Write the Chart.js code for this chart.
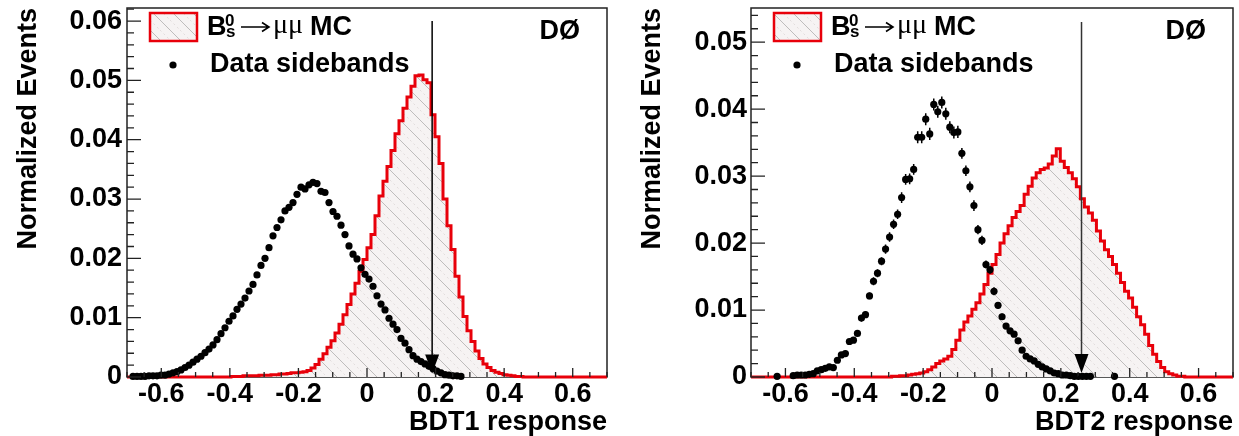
<!DOCTYPE html>
<html><head><meta charset="utf-8">
<script src="https://cdn.jsdelivr.net/npm/chart.js@4.4.1/dist/chart.umd.min.js"></script>
<style>
html,body{margin:0;padding:0;background:#fff;}
#wrap{position:relative;width:1239px;height:436px;background:#fff;}
canvas{position:absolute;top:0;}
</style></head><body>
<div id="wrap">
<canvas id="c1" width="620" height="436" style="left:0"></canvas>
<canvas id="c2" width="619" height="436" style="left:620px"></canvas>
</div>
<script>
// ---------------- data ----------------
const X_MIN = -0.7, X_MAX = 0.7, N_BINS = 120;
const X_TICKS = [-0.6, -0.4, -0.2, 0, 0.2, 0.4, 0.6];
const X_TICK_LABELS = ['-0.6', '-0.4', '-0.2', '0', '0.2', '0.4', '0.6'];
const Y_TICKS_1 = [0, 0.01, 0.02, 0.03, 0.04, 0.05, 0.06];
const Y_TICK_LABELS_1 = ['0', '0.01', '0.02', '0.03', '0.04', '0.05', '0.06'];
const Y_TICKS_2 = [0, 0.01, 0.02, 0.03, 0.04, 0.05];
const Y_TICK_LABELS_2 = ['0', '0.01', '0.02', '0.03', '0.04', '0.05'];
const CUT_1 = 0.19, CUT_2 = 0.26;

// BDT1: signal MC histogram (120 bins from -0.7 to 0.7)
const MC_1 = [
  0,0,0,0,0,0,0,0,0,0,
  0,0,0,0,0,0,0,0,0,0,
  0,0,0,0,0,0,0.0001,0.0001,0.0001,0.0002,
  0.0002,0.0002,0.0002,0.0003,0.0003,0.0003,0.0004,0.0004,0.0005,0.0005,
  0.0006,0.0007,0.0007,0.0008,0.0009,0.0011,0.0015,0.0021,0.0030,0.0039,
  0.0050,0.0061,0.0074,0.0089,0.0105,0.0122,0.0140,0.0158,0.0178,0.0198,
  0.0218,0.0240,0.0272,0.0305,0.0330,0.0355,0.0382,0.0410,0.0432,0.0453,
  0.0472,0.0490,0.0508,0.0509,0.0501,0.0496,0.0442,0.0405,0.0360,0.0300,
  0.0255,0.0215,0.0170,0.0135,0.0102,0.0078,0.0060,0.0044,0.0031,0.0022,
  0.0016,0.0011,0.0008,0.0006,0.0004,0.0003,0.0002,0.0001,0.0001,0,
  0,0,0,0,0,0,0,0,0,0,
  0,0,0,0,0,0,0,0,0,0
];
// BDT1: data sidebands
const DATA_1 = [
  null,0.0001,0.0001,0.0001,0.0001,0.0002,0.0002,0.0002,0.0003,0.0003,
  0.0005,0.0007,0.0009,0.0012,0.0016,0.0020,0.0025,0.0030,0.0035,0.0041,
  0.0047,0.0054,0.0063,0.0073,0.0083,0.0094,0.0103,0.0114,0.0123,0.0133,
  0.0145,0.0156,0.0172,0.0188,0.0200,0.0218,0.0238,0.0252,0.0265,0.0280,
  0.0286,0.0294,0.0308,0.0320,0.0317,0.0324,0.0328,0.0326,0.0313,0.0311,
  0.0294,0.0279,0.0271,0.0256,0.0240,0.0221,0.0207,0.0199,0.0184,0.0173,
  0.0165,0.0153,0.0137,0.0123,0.0113,0.0099,0.0089,0.0080,0.0065,0.0057,
  0.0046,0.0036,0.0030,0.0026,0.0022,0.0018,0.0014,0.0010,0.0007,0.0004,
  0.0003,0.0002,0.0002,0.0001,null,null,null,null,null,null,
  null,null,null,null,null,null,null,null,null,null,
  null,null,null,null,null,null,null,null,null,null,
  null,null,null,null,null,null,null,null,null,null
];
// BDT2: signal MC histogram
const MC_2 = [
  0,0,0,0,0,0,0,0,0,0,
  0,0,0,0,0,0,0,0,0,0,
  0,0,0,0,0,0,0,0,0,0,
  0,0,0,0,0,0.0001,0.0001,0.0002,0.0002,0.0003,
  0.0004,0.0005,0.0006,0.0008,0.0011,0.0015,0.0020,0.0024,0.0027,0.0031,
  0.0041,0.0055,0.0070,0.0082,0.0091,0.0101,0.0111,0.0124,0.0138,0.0155,
  0.0168,0.0183,0.0200,0.0214,0.0226,0.0238,0.0247,0.0256,0.0273,0.0285,
  0.0297,0.0305,0.0310,0.0312,0.0318,0.0330,0.0341,0.0322,0.0313,0.0305,
  0.0296,0.0284,0.0266,0.0254,0.0245,0.0234,0.0218,0.0203,0.0190,0.0180,
  0.0168,0.0155,0.0141,0.0128,0.0118,0.0104,0.0090,0.0078,0.0064,0.0047,
  0.0034,0.0023,0.0014,0.0008,0.0005,0.0003,0.0001,0.0001,0,0,
  0,0,0,0,0,0,0,0,0,0
];
// BDT2: data sidebands and their uncertainties
const DATA_2 = [
  null,null,null,null,null,null,0.0001,null,null,null,
  0.0002,0.0003,0.0003,0.0003,0.0004,0.0005,0.0009,0.0011,0.0013,0.0015,
  0.0014,0.0025,0.0033,0.0035,0.0053,0.0055,0.0065,0.0088,0.0093,0.0121,
  0.0143,0.0155,0.0173,0.0191,0.0209,0.0228,0.0243,0.0268,0.0295,0.0296,
  0.0310,0.0358,0.0358,0.0385,0.0363,0.0407,0.0396,0.0410,0.0393,0.0373,
  0.0365,0.0366,0.0334,0.0308,0.0284,0.0256,0.0220,0.0204,0.0168,0.0160,
  0.0128,0.0107,0.0090,0.0076,0.0069,0.0064,0.0054,0.0040,0.0031,0.0027,
  0.0024,0.0019,0.0015,0.0012,0.0009,0.0006,0.0005,0.0003,0.0003,0.0002,
  0.0001,0.0001,0.0001,0.0001,0.0001,null,null,null,null,null,
  0.0001,null,null,null,null,null,null,null,null,null,
  null,null,null,null,null,null,null,null,null,null,
  null,null,null,null,null,null,null,null,null,null
];
const ERR_2 = [
  null,null,null,null,null,null,0.0001,null,null,null,
  0.0001,0.0001,0.0001,0.0001,0.0001,0.0001,0.0002,0.0002,0.0002,0.0002,
  0.0002,0.0003,0.0003,0.0003,0.0004,0.0004,0.0004,0.0005,0.0005,0.0005,
  0.0006,0.0006,0.0006,0.0007,0.0007,0.0007,0.0007,0.0008,0.0008,0.0008,
  0.0008,0.0009,0.0009,0.0009,0.0009,0.0009,0.0009,0.0009,0.0009,0.0009,
  0.0009,0.0009,0.0008,0.0008,0.0008,0.0008,0.0007,0.0007,0.0006,0.0006,
  0.0006,0.0005,0.0005,0.0004,0.0004,0.0004,0.0004,0.0003,0.0003,0.0003,
  0.0003,0.0002,0.0002,0.0002,0.0002,0.0001,0.0001,0.0001,0.0001,0.0001,
  0.0001,0.0001,0.0001,0.0001,0.0001,null,null,null,null,null,
  0.0001,null,null,null,null,null,null,null,null,null,
  null,null,null,null,null,null,null,null,null,null,
  null,null,null,null,null,null,null,null,null,null
];

// ---------------- drawing ----------------
const FF = "'Liberation Sans', Arial, Helvetica, sans-serif";
const RED = '#e8000a';
const BIN_W = (X_MAX - X_MIN) / N_BINS;

function makeHatch() {
  const s = 20;
  const c = document.createElement('canvas'); c.width = s; c.height = s;
  const g = c.getContext('2d');
  g.fillStyle = '#f6f3f3'; g.fillRect(0, 0, s, s);
  g.strokeStyle = 'rgba(90,90,90,0.45)'; g.lineWidth = 0.8;
  g.beginPath(); g.moveTo(-1, -1); g.lineTo(s + 1, s + 1); g.stroke();
  g.strokeStyle = 'rgba(160,150,150,0.35)'; g.lineWidth = 0.7; g.setLineDash([2, 3]);
  g.beginPath(); g.moveTo(s / 2, 0); g.lineTo(s, s / 2); g.moveTo(0, s / 2); g.lineTo(s / 2, s); g.stroke();
  return g.createPattern(c, 'repeat');
}
const HATCH = makeHatch();

function histPoints(vals) {
  const pts = vals.map((v, k) => ({x: X_MIN + k * BIN_W, y: v}));
  pts.push({x: X_MAX, y: vals[vals.length - 1]});
  return pts;
}
function dataPoints(vals) {
  const pts = [];
  vals.forEach((v, k) => { if (v !== null) pts.push({x: X_MIN + (k + 0.5) * BIN_W, y: v}); });
  return pts;
}

function panelPlugin(P) {
  return {
    id: 'panelDeco',
    beforeDatasetsDraw(chart) {
      const {ctx, chartArea: a} = chart;
      ctx.save();
      ctx.strokeStyle = '#222'; ctx.lineWidth = 1.5;
      ctx.strokeRect(a.left, a.top, a.right - a.left, a.bottom - a.top);
      ctx.restore();
    },
    afterDatasetsDraw(chart) {
      const {ctx, chartArea: a, scales} = chart;
      const xs = scales.x, ys = scales.y;
      ctx.save();
      // inside ticks
      ctx.strokeStyle = '#222'; ctx.lineWidth = 1.3;
      ctx.beginPath();
      const nx = Math.round((X_MAX - X_MIN) / 0.05);
      for (let i = 0; i <= nx; i++) {
        const v = X_MIN + i * 0.05;
        const major = X_TICKS.some(t => Math.abs(t - v) < 1e-6);
        const px = xs.getPixelForValue(v);
        ctx.moveTo(px, a.bottom); ctx.lineTo(px, a.bottom - (major ? 9 : 5));
      }
      const ny = Math.floor(P.yMax / 0.002 + 1e-6);
      for (let i = 0; i <= ny; i++) {
        const v = i * 0.002;
        const major = i % 5 === 0;
        const py = ys.getPixelForValue(v);
        ctx.moveTo(a.left, py); ctx.lineTo(a.left + (major ? 14 : 7), py);
      }
      ctx.stroke();
      // error bars
      if (P.err) {
        ctx.strokeStyle = '#000'; ctx.lineWidth = 1.5; ctx.beginPath();
        P.data.forEach((v, k) => {
          const e = P.err[k];
          if (v === null || e === null) return;
          const px = xs.getPixelForValue(X_MIN + (k + 0.5) * BIN_W);
          ctx.moveTo(px, ys.getPixelForValue(v - e));
          ctx.lineTo(px, ys.getPixelForValue(v + e));
        });
        ctx.stroke();
      }
      // cut arrow
      const ax = xs.getPixelForValue(P.cut);
      const aTop = ys.getPixelForValue(P.arrowTop);
      const aTip = ys.getPixelForValue(0.0006);
      ctx.strokeStyle = P.arrowColor; ctx.lineWidth = 1.5;
      ctx.beginPath(); ctx.moveTo(ax, aTop); ctx.lineTo(ax, aTip - 16); ctx.stroke();
      ctx.fillStyle = '#000';
      ctx.beginPath(); ctx.moveTo(ax - 7, aTip - 19); ctx.lineTo(ax + 7, aTip - 19); ctx.lineTo(ax, aTip); ctx.closePath(); ctx.fill();
      // legend
      const L = a.left;
      ctx.fillStyle = HATCH; ctx.fillRect(L + 23, 13, 47, 28);
      ctx.strokeStyle = RED; ctx.lineWidth = 2.5; ctx.strokeRect(L + 23, 13, 47, 28);
      ctx.fillStyle = '#000'; ctx.textAlign = 'left'; ctx.textBaseline = 'alphabetic';
      ctx.font = 'bold 27px ' + FF; ctx.fillText('B', L + 80, 35);
      ctx.font = 'bold 17px ' + FF; ctx.fillText('0', L + 98, 26); ctx.fillText('s', L + 99, 37);
      ctx.strokeStyle = '#000'; ctx.lineWidth = 1.6;
      ctx.beginPath(); ctx.moveTo(L + 114, 27); ctx.lineTo(L + 142, 27);
      ctx.moveTo(L + 135, 22.5); ctx.lineTo(L + 142, 27); ctx.lineTo(L + 135, 31.5); ctx.stroke();
      ctx.font = "28px 'Liberation Serif', 'DejaVu Serif', serif"; ctx.fillText('\u03bc\u03bc', L + 146, 33);
      ctx.font = 'bold 27px ' + FF; ctx.fillText('MC', L + 183, 35);
      ctx.beginPath(); ctx.arc(L + 46, 65, 3.6, 0, 2 * Math.PI); ctx.fill();
      ctx.fillText('Data sidebands', L + 83, 72);
      ctx.textAlign = 'right'; ctx.fillText('D\u00d8', a.right - 27, 39);
      ctx.restore();
    }
  };
}

function makePanel(id, P) {
  const tickFont = {family: FF, size: 27, weight: 'bold'};
  const titleFont = {family: FF, size: 27, weight: 'bold', lineHeight: 1};
  return new Chart(document.getElementById(id), {
    type: 'scatter',
    data: {
      datasets: [
        {label: 'Data sidebands', data: dataPoints(P.data), pointRadius: 3.6, pointBackgroundColor: '#000',
         pointBorderWidth: 0, showLine: false, clip: false, order: 1},
        {type: 'line', label: 'MC', data: histPoints(P.mc), stepped: true, borderColor: RED, borderWidth: 3,
         backgroundColor: HATCH, fill: 'origin', pointRadius: 0, clip: false, order: 2, tension: 0}
      ]
    },
    options: {
      responsive: false, animation: false, devicePixelRatio: 1,
      layout: {padding: {left: 0, top: 8, right: P.padRight, bottom: 0}},
      plugins: {legend: {display: false}, tooltip: {enabled: false}},
      scales: {
        x: {
          type: 'linear', min: X_MIN, max: X_MAX,
          grid: {display: false, drawTicks: false}, border: {display: false},
          afterBuildTicks: s => { s.ticks = X_TICKS.map(v => ({value: v})); },
          ticks: {font: tickFont, color: '#000', padding: 1, maxRotation: 0, autoSkip: false,
                  callback: (v, i) => X_TICK_LABELS[i]},
          title: {display: true, text: P.xTitle, align: 'end', font: titleFont, color: '#000', padding: {top: 0, bottom: 0}},
          afterFit: s => { s.height = 59; s.paddingLeft = 0; s.paddingRight = 0; }
        },
        y: {
          type: 'linear', min: 0, max: P.yMax,
          grid: {display: false, drawTicks: false}, border: {display: false},
          afterBuildTicks: s => { s.ticks = P.yTicks.map(v => ({value: v})); },
          ticks: {font: tickFont, color: '#000', padding: P.yTickPad, autoSkip: false,
                  callback: (v, i) => P.yLabels[i]},
          title: {display: true, text: 'Normalized Events', align: 'end', font: titleFont, color: '#000',
                  padding: {top: P.yTitlePad, bottom: 0}},
          afterFit: s => { s.width = P.yWidth; s.paddingTop = 0; s.paddingBottom = 0; }
        }
      }
    },
    plugins: [panelPlugin(P)]
  });
}

makePanel('c1', {mc: MC_1, data: DATA_1, err: null, yMax: 0.0622, yTicks: Y_TICKS_1, yLabels: Y_TICK_LABELS_1,
  xTitle: 'BDT1 response', cut: CUT_1, arrowTop: 0.06, arrowColor: '#000',
  padRight: 13, yWidth: 127, yTickPad: 5, yTitlePad: 15});
makePanel('c2', {mc: MC_2, data: DATA_2, err: ERR_2, yMax: 0.0551, yTicks: Y_TICKS_2, yLabels: Y_TICK_LABELS_2,
  xTitle: 'BDT2 response', cut: CUT_2, arrowTop: 0.053, arrowColor: '#333',
  padRight: 6, yWidth: 131, yTickPad: 4, yTitlePad: 19});
</script>
</body></html>
